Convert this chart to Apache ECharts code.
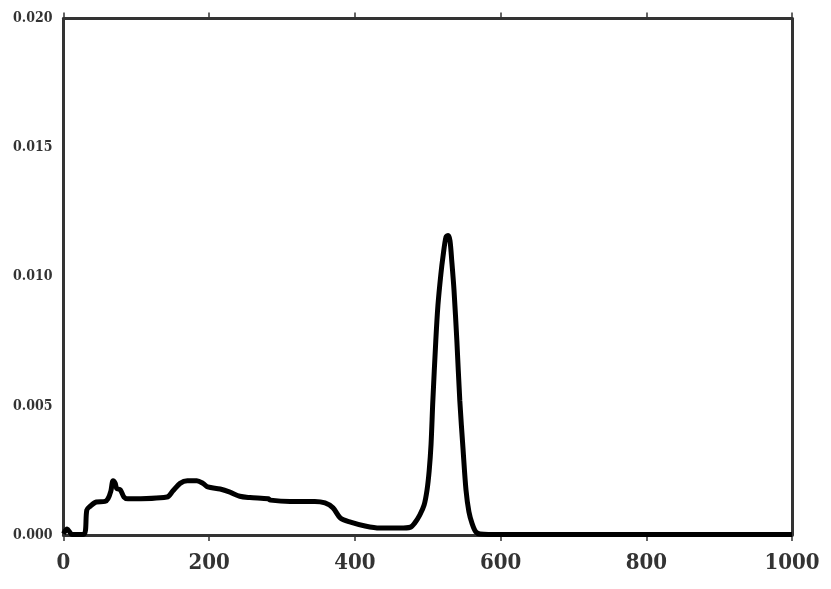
<!DOCTYPE html>
<html>
<head>
<meta charset="utf-8">
<script src="https://cdn.jsdelivr.net/npm/echarts@6/dist/echarts.min.js"></script>
<style>
html,body{margin:0;padding:0;background:#fff;}
#chart{width:831px;height:589px;}
</style>
</head>
<body>
<div id="chart"></div>
<script>
var xValues = [0, 5, 12, 28, 32, 36, 45, 57, 61, 65, 68, 71, 73, 78, 83, 88.5, 142, 150, 160, 170, 183, 191.5, 198, 215, 228.5, 242, 256, 281, 284, 311, 345, 359, 370, 380, 394, 414, 434, 462, 476, 482, 489, 495, 499, 502, 504.5, 507, 511, 514, 518, 521, 525, 528, 530.5, 533, 536, 540, 544, 548.5, 552.5, 556.5, 561, 566, 572, 600, 700, 800, 900, 1000];
var yValues = [0.00005, 0.00023, 0.00002, 0.00003, 0.00097, 0.0011, 0.00128, 0.0013, 0.0014, 0.0017, 0.0021, 0.002, 0.0018, 0.00175, 0.00147, 0.0014, 0.00147, 0.0017, 0.002, 0.0021, 0.0021, 0.002, 0.00186, 0.00178, 0.00166, 0.0015, 0.00145, 0.0014, 0.00135, 0.0013, 0.0013, 0.00124, 0.00105, 0.00066, 0.0005, 0.00035, 0.00027, 0.00027, 0.0003, 0.00046, 0.00077, 0.00116, 0.00174, 0.0025, 0.0035, 0.0052, 0.0075, 0.0089, 0.0101, 0.0108, 0.01154, 0.0116, 0.0114, 0.0106, 0.0095, 0.0075, 0.0052, 0.0033, 0.00174, 0.0009, 0.00043, 0.00012, 0.00004, 0.00002, 0.00002, 0.00002, 0.00002, 0.00002];
var xTicks = [0, 200, 400, 600, 800, 1000];
var yTicks = ['0.000', '0.005', '0.010', '0.015', '0.020'];

var pts = xValues.map(function (x, i) { return [x, yValues[i]]; });
var chart = echarts.init(document.getElementById('chart'), null, {renderer: 'canvas'});
var fontFam = '"DejaVu Serif Condensed", "DejaVu Serif", serif';
function axLine() { return {show: true, onZero: false, lineStyle: {color: '#333', width: 3}}; }
chart.setOption({
  animation: false,
  backgroundColor: '#fff',
  grid: {left: 63.5, right: 39, top: 18.5, bottom: 54, containLabel: false},
  xAxis: [{
    type: 'value', min: 0, max: 1000, interval: 200, position: 'bottom',
    axisLine: axLine(),
    axisTick: {show: true, inside: false, length: 6, lineStyle: {color: '#333', width: 1.5}},
    axisLabel: {fontFamily: fontFam, fontWeight: 'bold', fontSize: 22, color: '#333', margin: 17,
      formatter: function (v) { return xTicks.indexOf(v) >= 0 ? String(v) : ''; }},
    splitLine: {show: false}
  }, {
    type: 'value', min: 0, max: 1000, interval: 200, position: 'top',
    axisLine: axLine(),
    axisTick: {show: true, inside: false, length: 6, lineStyle: {color: '#333', width: 1.5}},
    axisLabel: {show: false},
    splitLine: {show: false}
  }],
  yAxis: [{
    type: 'value', min: 0, max: 0.02, interval: 0.005, position: 'left',
    axisLine: axLine(),
    axisTick: {show: false},
    axisLabel: {fontFamily: fontFam, fontWeight: 'bold', fontSize: 14, color: '#333', margin: 11,
      formatter: function (v) { return yTicks[Math.round(v / 0.005)]; }},
    splitLine: {show: false}
  }, {
    type: 'value', min: 0, max: 0.02, interval: 0.005, position: 'right',
    axisLine: axLine(),
    axisTick: {show: false},
    axisLabel: {show: false},
    splitLine: {show: false}
  }],
  series: [{
    type: 'line', data: pts, xAxisIndex: 0, yAxisIndex: 0,
    showSymbol: false, smooth: 0.3,
    lineStyle: {color: '#000', width: 5},
    z: 1
  }]
});
</script>
</body>
</html>
